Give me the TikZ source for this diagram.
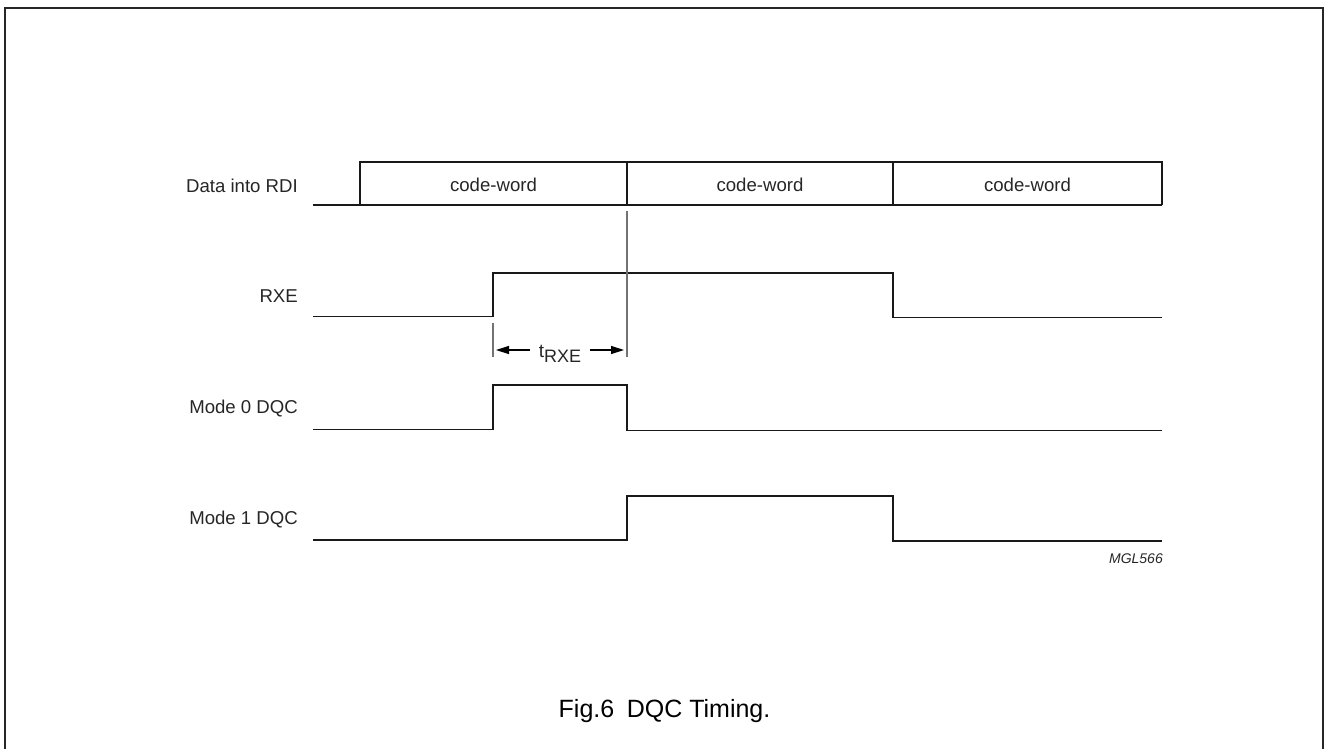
\documentclass[tikz,border=0pt]{standalone}
\usepackage{fontspec}
\setmainfont{Liberation Sans}
\usetikzlibrary{arrows.meta}
\begin{document}
\begin{tikzpicture}[x=1pt,y=-1pt,
  sig/.style={line width=1.8pt, line join=miter, color=black!90},
  frame/.style={line width=2pt, color=black!85},
  marker/.style={line width=1.3pt, color=black!55},
  lbl/.style={anchor=base east, inner sep=0pt, font=\fontsize{18.6}{22}\selectfont, text=black!85},
  cw/.style={anchor=base, inner sep=0pt, font=\fontsize{18.6}{22}\selectfont, text=black!85},
  dim/.style={line width=1.3pt, -{Triangle[length=13pt,width=8pt]}},
  ]
\useasboundingbox (0,0) rectangle (1326,748);
% frame
\draw[frame] (4.5,760) -- (4.5,7.5) -- (1323,7.5) -- (1323,760);

% labels
\node[lbl] (ldata) at (298,192) {Data into RDI};
\node[lbl] (lrxe)  at (298,302) {RXE};
\node[lbl] (lm0)   at (298,413) {Mode 0 DQC};
\node[lbl] (lm1)   at (298,524) {Mode 1 DQC};

% Data into RDI
\draw[sig] (313,205) -- (1162,205);
\draw[sig] (360,205) -- (360,162) -- (1162,162) -- (1162,205);
\draw[sig] (627,162) -- (627,205);
\draw[sig] (893,162) -- (893,205);
\node[cw] (cw1) at (493.5,191) {code-word};
\node[cw] (cw2) at (760,191) {code-word};
\node[cw] (cw3) at (1027.5,191) {code-word};

% RXE
\draw[sig] (313,316.5) -- (493,316.5) -- (493,273) -- (893,273) -- (893,317.5) -- (1162,317.5);

% Mode 0 DQC
\draw[sig] (313,429.5) -- (493,429.5) -- (493,385) -- (627,385) -- (627,430.5) -- (1162,430.5);

% Mode 1 DQC
\draw[sig] (313,540) -- (627,540) -- (627,496) -- (893,496) -- (893,541) -- (1162,541);

% timing marker
\coordinate (ttop) at (627,211);
\coordinate (tbot) at (627,357);
\coordinate (ktop) at (493,323);
\coordinate (kbot) at (493,357);
\draw[marker] (ttop) -- (tbot);
\draw[marker] (ktop) -- (kbot);
\node[anchor=base, inner sep=0pt, font=\fontsize{19}{22}\selectfont, text=black!85] (trxe) at (560,357)
  {t\raisebox{-5pt}{\fontsize{18}{20}\selectfont RXE}};
\coordinate (al) at (496,350);
\coordinate (ar) at (624,350);
\draw[dim] (530,350) -- (al);
\draw[dim] (590,350) -- (ar);

% id
\node[anchor=base east, inner sep=0pt, font=\fontsize{14}{16}\selectfont\itshape, text=black!85] (mgl) at (1163,563) {MGL566};

% caption
\node[anchor=base, inner sep=0pt, font=\fontsize{25}{30}\selectfont] (cap) at (664.5,717) {Fig.6\hspace{0.5em}DQC Timing.};
\end{tikzpicture}
\end{document}
